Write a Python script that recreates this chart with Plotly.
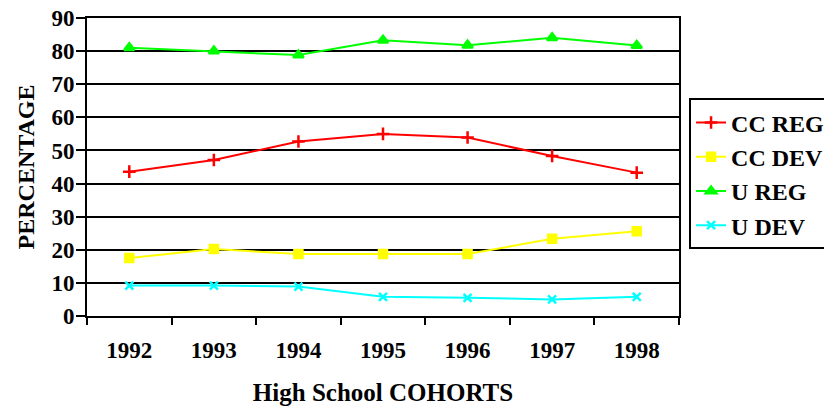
import plotly.graph_objects as go

years = ["1992", "1993", "1994", "1995", "1996", "1997", "1998"]
cc_reg = [43.6, 47.1, 52.7, 55.0, 53.9, 48.3, 43.3]
cc_dev = [17.5, 20.2, 18.7, 18.7, 18.7, 23.3, 25.6]
u_reg = [81.0, 80.0, 78.8, 83.3, 81.8, 84.0, 81.7]
u_dev = [9.2, 9.2, 8.9, 5.8, 5.5, 5.0, 5.8]

FONT = "Liberation Serif"

series = [
    ("CC REG", cc_reg, "#FF0000", "cross-thin", 9),
    ("CC DEV", cc_dev, "#FFFF00", "square", 8),
    ("U REG", u_reg, "#00FF00", "triangle-up", 9),
    ("U DEV", u_dev, "#00FFFF", "x-thin", 8),
]

fig = go.Figure()
for name, vals, color, sym, size in series:
    fig.add_trace(go.Scatter(
        x=years, y=vals, name=name, mode="lines+markers",
        line=dict(color=color, width=2),
        marker=dict(symbol=sym, size=size, color=color,
                    line=dict(color=color, width=2.5)),
    ))

# page has an 8px body margin, so the figure is 824x403 drawn at (8, 8)
fig.update_layout(
    width=824, height=403,
    margin=dict(l=79, r=153, t=10, b=95, autoexpand=False),
    paper_bgcolor="white", plot_bgcolor="white",
    font=dict(family=FONT, color="black", size=18),
    showlegend=True,
    legend=dict(
        x=1.017, y=0.73, xanchor="left", yanchor="top",
        bordercolor="black", borderwidth=2,
        font=dict(family=FONT, size=24, color="black", weight="bold"),
        tracegroupgap=0, itemwidth=30,
    ),
    xaxis=dict(
        type="category", range=[-0.5, 6.5], automargin=False,
        tickson="boundaries", ticks="outside", ticklen=7, tickwidth=2,
        tickcolor="black", ticklabelstandoff=12,
        showline=True, linecolor="black", linewidth=2, mirror=True,
        showgrid=False,
        tickfont=dict(family=FONT, size=23, weight="bold"),
        title=dict(text="High School COHORTS", standoff=22,
                   font=dict(family=FONT, size=25, weight="bold")),
    ),
    yaxis=dict(
        range=[0, 90], dtick=10, automargin=False,
        ticks="outside", ticklen=9, tickwidth=2, tickcolor="black",
        ticklabelstandoff=-3, ticklabeloverflow="allow",
        showline=True, linecolor="black", linewidth=2, mirror=True,
        showgrid=True, gridcolor="black", gridwidth=2,
        zeroline=False,
        tickfont=dict(family=FONT, size=23, weight="bold"),
        title=dict(text="PERCENTAGE", standoff=10,
                   font=dict(family=FONT, size=24, weight="bold")),
    ),
)

fig.write_html("out.html")
